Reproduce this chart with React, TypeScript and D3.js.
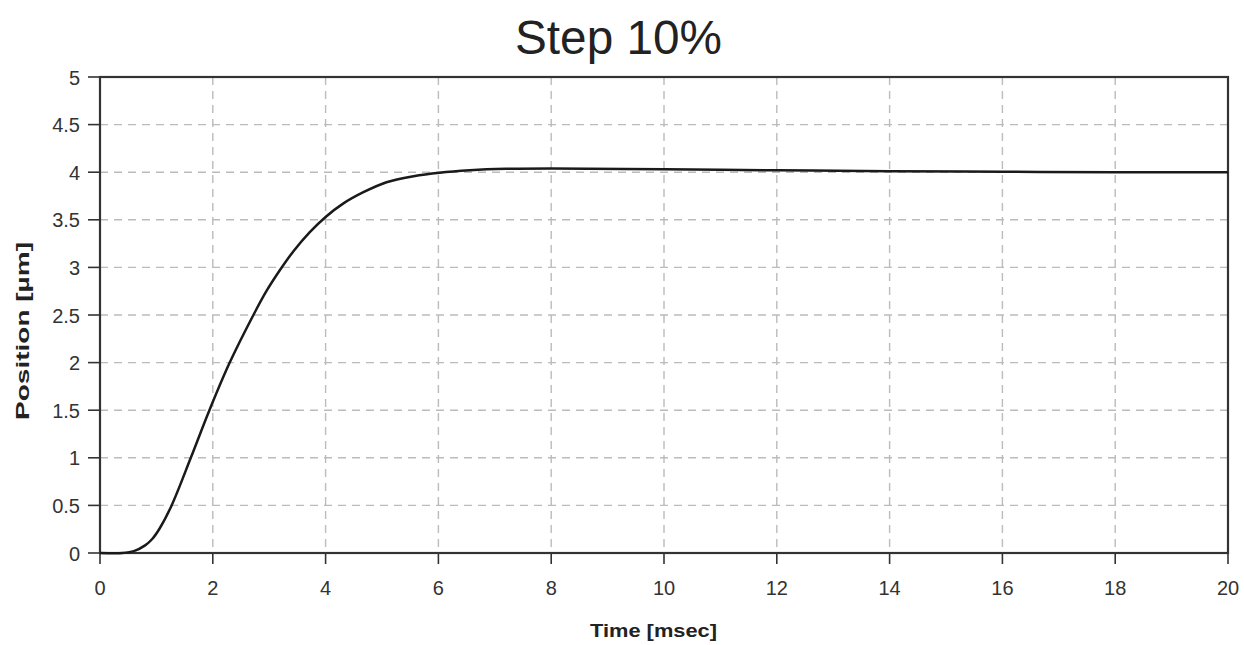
import React from "react";
import * as d3 from "d3";

const timeValues = [0, 0.4, 0.6, 0.8, 0.93, 1.06, 1.27, 1.61, 1.94, 2.3, 2.72, 2.95, 3.2, 3.43, 3.72, 4.0, 4.31, 4.67, 5.08, 5.56, 6.02, 6.56, 7.2, 8, 10, 12, 14, 16, 18, 20];
const positionValues = [0, 0, 0.02, 0.08, 0.15, 0.26, 0.5, 1, 1.5, 2, 2.5, 2.75, 2.98, 3.17, 3.37, 3.53, 3.67, 3.79, 3.895, 3.958, 3.995, 4.02, 4.035, 4.04, 4.03, 4.02, 4.01, 4.005, 4.0, 4.0];
const xTicks = [0, 2, 4, 6, 8, 10, 12, 14, 16, 18, 20];
const yTicks = [0, 0.5, 1, 1.5, 2, 2.5, 3, 3.5, 4, 4.5, 5];

const W = 1244, H = 645;
const L = 100, R = 1228, T = 77, B = 553;
const font = "'Liberation Sans', Arial, sans-serif";

export default function App() {
  const x = d3.scaleLinear().domain([0, 20]).range([L, R]);
  const y = d3.scaleLinear().domain([0, 5]).range([B, T]);
  const pts = timeValues.map((t, i) => [t, positionValues[i]] as [number, number]);
  const line = d3.line<[number, number]>().x(d => x(d[0])).y(d => y(d[1])).curve(d3.curveCatmullRom.alpha(0.5));
  return (
    <svg width={W} height={H} style={{ position: "absolute", left: 0, top: 0, background: "#fff" }} fontFamily={font}>
      <text x={618.5} y={54} textAnchor="middle" fontSize={48} fill="#222" textLength={207} lengthAdjust="spacingAndGlyphs">Step 10%</text>
      {xTicks.slice(1, -1).map(t => (
        <line key={"gx" + t} x1={x(t)} x2={x(t)} y1={T} y2={B} stroke="#bbb" strokeWidth={1.4} strokeDasharray="8,6" />
      ))}
      {yTicks.slice(1, -1).map(t => (
        <line key={"gy" + t} x1={L} x2={R} y1={y(t)} y2={y(t)} stroke="#bbb" strokeWidth={1.4} strokeDasharray="8,6" />
      ))}
      <rect x={L} y={T} width={R - L} height={B - T} fill="none" stroke="#333" strokeWidth={2.2} />
      {xTicks.map(t => (
        <g key={"xt" + t}>
          <line x1={x(t)} x2={x(t)} y1={B} y2={B + 11} stroke="#333" strokeWidth={1.6} />
          <text x={x(t)} y={595} textAnchor="middle" fontSize={20} fill="#333">{t}</text>
        </g>
      ))}
      {yTicks.map(t => (
        <g key={"yt" + t}>
          <line x1={L - 12} x2={L} y1={y(t)} y2={y(t)} stroke="#333" strokeWidth={1.6} />
          <text x={L - 20} y={y(t) + 7.5} textAnchor="end" fontSize={20} fill="#333">{t}</text>
        </g>
      ))}
      <path d={line(pts) || ""} fill="none" stroke="#1a1a1a" strokeWidth={2.5} />
      <text x={653.5} y={637} textAnchor="middle" fontSize={18} fontWeight="bold" fill="#222" textLength={127} lengthAdjust="spacingAndGlyphs">Time [msec]</text>
      <text transform={`translate(29,331) rotate(-90)`} textAnchor="middle" fontSize={18} fontWeight="bold" fill="#222" textLength={178} lengthAdjust="spacingAndGlyphs">Position [µm]</text>
    </svg>
  );
}
